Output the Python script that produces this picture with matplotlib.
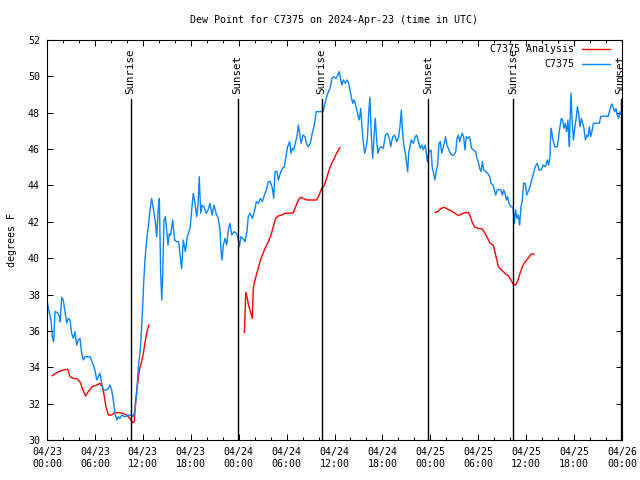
import numpy as np
import matplotlib
matplotlib.use("Agg")
import matplotlib.pyplot as plt
import matplotlib.dates as mdates

plt.rcParams['font.family'] = ['DejaVu Sans Mono']
plt.rcParams['font.size'] = 7.2

start = np.datetime64('2024-04-23T00:00')

# observed dew point (hours since start, degrees F)
obs_hours = [0.0, 0.25, 0.5, 0.67, 0.83, 1.0, 1.33, 1.58, 1.67, 1.83, 2.04, 2.25, 2.46, 2.67, 2.88,
             3.09, 3.3, 3.5, 3.72, 3.92, 4.13, 4.34, 4.55, 4.76, 5.38, 5.8, 6.0, 6.22, 6.43, 6.64,
             6.85, 7.05, 7.47, 7.68, 7.89, 8.1, 8.3, 8.5, 8.73, 8.93, 9.14, 9.35, 9.77, 10.18, 10.6,
             10.8, 11.02, 11.23, 11.43, 11.65, 11.85, 12.0, 12.1, 12.27, 12.48, 12.68, 12.9, 13.1,
             13.22, 13.4, 13.56, 13.74, 13.94, 14.06, 14.24, 14.36, 14.48, 14.65, 14.81, 14.99,
             15.15, 15.31, 15.49, 15.74, 15.99, 16.24, 16.49, 16.74, 16.87, 17.07, 17.32, 17.57,
             17.91, 18.12, 18.32, 18.53, 18.75, 18.91, 19.07, 19.25, 19.41, 19.66, 19.91, 20.16,
             20.41, 20.66, 20.91, 21.16, 21.45, 21.66, 21.79, 21.91, 22.08, 22.29, 22.5, 22.7,
             22.92, 23.13, 23.42, 23.75, 23.96, 24.08, 24.29, 24.54, 24.79, 25.04, 25.2, 25.42,
             25.71, 25.96, 26.21, 26.46, 26.71, 26.96, 27.21, 27.46, 27.71, 27.96, 28.21, 28.39,
             28.55, 28.8, 28.96, 29.21, 29.46, 29.71, 29.89, 30.14, 30.39, 30.55, 30.72, 30.89,
             31.14, 31.3, 31.47, 31.64, 31.81, 32.06, 32.31, 32.47, 32.72, 32.97, 33.22, 33.47,
             33.72, 33.97, 34.22, 34.56, 34.81, 35.1, 35.44, 35.69, 35.94, 36.19, 36.44, 36.6,
             36.78, 36.94, 37.1, 37.35, 37.6, 37.76, 37.94, 38.1, 38.28, 38.44, 38.6, 38.78, 38.94,
             39.1, 39.28, 39.44, 39.61, 39.78, 39.94, 40.1, 40.28, 40.44, 40.61, 40.78, 40.94,
             41.1, 41.28, 41.44, 41.61, 41.86, 42.11, 42.36, 42.61, 42.86, 43.03, 43.28, 43.53,
             43.78, 44.03, 44.2, 44.36, 44.54, 44.7, 44.87, 45.04, 45.17, 45.29, 45.45, 45.62,
             45.87, 46.12, 46.29, 46.46, 46.71, 46.96, 47.12, 47.37, 47.62, 47.83, 48.08, 48.25,
             48.42, 48.58, 48.75, 48.92, 49.09, 49.25, 49.42, 49.59, 49.75, 49.92, 50.09, 50.25,
             50.42, 50.67, 50.93, 51.18, 51.34, 51.51, 51.68, 51.84, 52.0, 52.17, 52.34, 52.5,
             52.67, 52.92, 53.17, 53.42, 53.67, 53.84, 54.0, 54.18, 54.35, 54.51, 54.68, 54.93,
             55.18, 55.43, 55.6, 55.85, 56.01, 56.18, 56.35, 56.6, 56.85, 57.01, 57.18, 57.35,
             57.51, 57.68, 57.85, 58.1, 58.35, 58.52, 58.68, 58.85, 59.02, 59.19, 59.35, 59.52,
             59.69, 59.89, 60.07, 60.23, 60.48, 60.69, 60.89, 61.14, 61.39, 61.64, 61.89, 62.14,
             62.4, 62.65, 62.81, 62.98, 63.07, 63.15, 63.32, 63.57, 63.9, 64.07, 64.24, 64.4,
             64.57, 64.74, 64.9, 65.07, 65.24, 65.33, 65.41, 65.49, 65.62, 65.74, 65.91, 66.08,
             66.24, 66.41, 66.57, 66.74, 66.91, 67.08, 67.24, 67.41, 67.58, 67.74, 67.91, 68.07,
             68.24, 68.41, 68.66, 68.91, 69.16, 69.33, 69.66, 70.0, 70.25, 70.41, 70.58, 70.75,
             70.91, 71.08, 71.25, 71.41, 71.58, 71.75, 72.0]
obs_vals = [37.7, 37.06, 36.6, 35.68, 35.4, 37.06, 37.0, 36.78, 36.5, 37.85, 37.7, 37.06, 36.42, 36.69, 36.6,
            35.87, 35.59, 35.96, 35.22, 35.5, 35.59, 34.77, 34.4, 34.58, 34.58, 34.12, 33.85, 33.3, 33.48, 33.67,
            33.12, 32.75, 32.75, 32.84, 33.02, 32.75, 32.2, 31.47, 31.1, 31.28, 31.19, 31.37, 31.28, 31.37, 31.37,
            31.28, 31.65, 32.57, 34.03, 34.77, 36.23, 37.5, 38.6, 39.9, 41.0, 41.73, 42.65, 43.29,
            43.02, 42.47, 42.01, 41.18, 42.74, 43.29, 39.17, 37.7, 38.98, 42.1, 42.28, 41.55,
            40.72, 41.36, 41.27, 42.1, 41.0, 40.91, 40.91, 39.9, 39.44, 41.0, 40.36, 41.18,
            41.64, 42.65, 43.57, 43.02, 42.28, 43.02, 44.48, 42.47, 42.92, 42.83, 42.47, 42.65,
            43.02, 42.37, 42.92, 42.47, 42.19, 41.55, 40.45, 39.9, 40.72, 41.09, 40.72, 41.55,
            41.92, 41.27, 41.46, 41.36, 41.0, 40.63, 41.18, 41.09, 40.91, 41.46, 42.28, 42.47,
            42.19, 42.56, 43.11, 43.02, 43.29, 43.11, 43.47, 43.75, 44.21, 44.21, 43.84, 43.29,
            44.76, 44.76, 44.3, 44.67, 44.94, 45.03, 45.49, 46.13, 46.41, 45.77, 46.04, 45.95,
            46.41, 46.68, 47.32, 46.87, 46.32, 46.77, 46.68, 46.32, 46.13, 46.32, 46.87, 47.32,
            48.06, 48.06, 48.06, 48.06, 48.52, 49.0, 49.34, 49.89, 49.98, 49.89, 50.07, 50.26,
            49.8, 49.52, 49.8, 49.62, 49.8, 49.62, 49.25, 48.88, 48.52, 48.7, 48.52, 48.15, 47.87,
            47.6, 48.24, 47.23, 46.32, 45.77, 46.04, 46.5, 47.97, 48.85, 46.68, 45.49, 46.5,
            47.69, 46.5, 45.77, 46.04, 46.13, 46.04, 46.77, 46.87, 46.59, 46.13, 46.68, 46.77,
            46.41, 46.68, 47.23, 48.15, 46.87, 46.13, 45.77, 45.22, 44.76, 45.77, 46.13, 46.5,
            46.32, 46.68, 46.77, 46.5, 46.04, 46.22, 45.95, 46.22, 45.31, 45.86, 45.95, 44.94,
            44.67, 44.3, 44.85, 45.12, 46.32, 46.41, 45.77, 46.04, 46.32, 46.68, 46.22, 46.04,
            45.86, 45.67, 45.67, 45.86, 46.59, 46.77, 46.41, 46.68, 46.87, 46.68, 45.95, 46.68,
            46.59, 46.68, 46.04, 45.95, 45.86, 45.49, 45.31, 44.94, 44.76, 45.31, 44.85, 44.76,
            44.67, 44.48, 44.12, 44.02, 43.75, 43.47, 43.75, 43.79, 43.75, 43.47, 43.75, 43.57,
            43.2, 43.38, 43.02, 42.83, 42.83, 41.92, 42.65, 42.19, 42.37, 41.82, 42.83, 43.2,
            44.12, 44.12, 43.47, 43.66, 43.93, 44.3, 44.58, 45.03, 45.22, 44.85, 44.85, 45.12,
            45.03, 45.4, 45.12, 45.58, 46.87, 47.14, 46.59, 46.13, 46.13, 46.68, 47.23, 47.69,
            47.6, 47.14, 47.42, 46.96, 47.6, 46.68, 46.13, 47.42, 49.07, 47.78, 46.5, 47.14,
            47.6, 48.33, 47.97, 47.23, 47.69, 47.42, 47.14, 46.5, 46.77, 46.68, 47.23, 46.68,
            46.96, 47.42, 47.42, 47.42, 47.42, 47.78, 47.82, 47.82, 47.78, 48.06, 48.33, 48.48,
            48.24, 48.06, 48.24, 47.87, 47.69, 48.06, 47.8]

# analysis, three separate runs
ana1_hours = [0.67, 1.21, 1.63, 2.04, 2.59, 2.88, 3.3, 3.84, 4.13, 4.42, 4.84, 5.17, 5.67, 6.22, 6.64,
              6.93, 7.18, 7.39, 7.68, 8.1, 8.43, 9.02, 9.43, 9.98, 10.39, 10.68, 10.93, 11.1, 11.35,
              11.56, 11.85, 12.06, 12.27, 12.56, 12.77]
ana1_vals = [33.54, 33.7, 33.79, 33.85, 33.89, 33.48, 33.39, 33.35, 33.2, 32.84, 32.42, 32.66, 32.93, 33.02, 33.12,
             32.93, 32.38, 31.83, 31.37, 31.37, 31.5, 31.5, 31.47, 31.37, 31.19, 30.95, 31.01, 32.2, 33.12,
             33.85, 34.31, 34.77, 35.35, 36.05, 36.32]
ana2_hours = [24.71, 24.88, 25.04, 25.29, 25.54, 25.71, 25.83, 25.96, 26.21, 26.55, 26.88, 27.3, 27.71,
              28.05, 28.34, 28.63, 28.96, 29.39, 29.8, 30.43, 30.84, 31.14, 31.47, 31.77, 32.1, 32.52,
              33.14, 33.77, 34.06, 34.4, 34.73, 35.02, 35.31, 35.65, 35.98, 36.28, 36.69]
ana2_vals = [35.92, 38.1, 37.88, 37.33, 36.97, 36.69, 38.34, 38.65, 39.07, 39.62, 40.08, 40.54, 40.91,
             41.27, 41.73, 42.19, 42.32, 42.37, 42.47, 42.47, 42.5, 42.83, 43.2, 43.35, 43.29, 43.2,
             43.2, 43.2, 43.47, 43.84, 44.02, 44.39, 44.85, 45.22, 45.49, 45.8, 46.08]
ana3_hours = [48.58, 48.92, 49.34, 49.75, 50.17, 50.59, 51.09, 51.51, 51.93, 52.34, 52.76, 53.01, 53.26,
              53.59, 54.0, 54.51, 54.85, 55.18, 55.47, 55.89, 56.18, 56.51, 56.93, 57.35, 57.76, 58.1,
              58.39, 58.68, 58.93, 59.23, 59.52, 59.77, 60.07, 60.39, 60.64, 60.98]
ana3_vals = [42.52, 42.56, 42.74, 42.8, 42.69, 42.61, 42.47, 42.34, 42.43, 42.5, 42.52, 42.28, 41.95,
             41.7, 41.64, 41.6, 41.37, 41.09, 40.82, 40.72, 40.17, 39.53, 39.35, 39.17, 39.02, 38.8,
             38.56, 38.52, 38.74, 39.17, 39.53, 39.72, 39.9, 40.08, 40.23, 40.23]

sun_hours = [10.47, 23.87, 34.4, 47.75, 58.38, 71.84]
sun_labels = ["Sunrise", "Sunset", "Sunrise", "Sunset", "Sunrise", "Sunset"]


def to_time(hours):
    return start + (np.array(hours) * 60).round().astype(int).astype('timedelta64[m]')


fig = plt.figure(figsize=(6.4, 4.8), dpi=100)
ax = fig.add_axes([47 / 640, 40 / 480, 575 / 640, 400 / 480])

for h, v in [(ana1_hours, ana1_vals), (ana2_hours, ana2_vals), (ana3_hours, ana3_vals)]:
    ax.plot(to_time(h), v, color='#ff0000', lw=1.0)
ax.plot(to_time(obs_hours), obs_vals, color='#0a84ff', lw=1.0)

for h, lab in zip(sun_hours, sun_labels):
    t = to_time([h])[0]
    ax.plot([t, t], [30, 48.75], color='black', lw=1.0)
    ax.text(t, 49.05, lab, rotation=90, ha='center', va='bottom', fontsize=7.8)

ax.set_xlim(to_time([0])[0], to_time([72])[0])
ax.set_ylim(30, 52)
ax.set_yticks(np.arange(30, 53, 2))
ax.xaxis.set_major_locator(mdates.HourLocator(byhour=range(0, 24, 6)))
ax.xaxis.set_minor_locator(mdates.HourLocator(byhour=range(0, 24, 2)))
ax.xaxis.set_major_formatter(mdates.DateFormatter('%m/%d\n%H:%M'))
ax.tick_params(which='both', direction='in', top=True, right=True, labelsize=7.2)
ax.tick_params(which='major', length=4.5, width=0.75, pad=5)
ax.tick_params(which='minor', length=2.5, width=0.75)
for s in ax.spines.values():
    s.set_linewidth(0.8)

ax.set_ylabel("degrees F", fontsize=7.2, labelpad=8)
ax.set_title("Dew Point for C7375 on 2024-Apr-23 (time in UTC)", fontsize=7.2, pad=12)

# gnuplot style key: right aligned text, sample line on the right
key = [("C7375 Analysis", '#ff0000', 0.9775), ("C7375", '#0a84ff', 0.94)]
for lab, col, yk in key:
    ax.text(0.917, yk, lab, transform=ax.transAxes, ha='right', va='center', fontsize=7.2)
    ax.plot([0.930, 0.979], [yk, yk], transform=ax.transAxes, color=col, lw=1.0)

fig.savefig("out.png", dpi=100)
